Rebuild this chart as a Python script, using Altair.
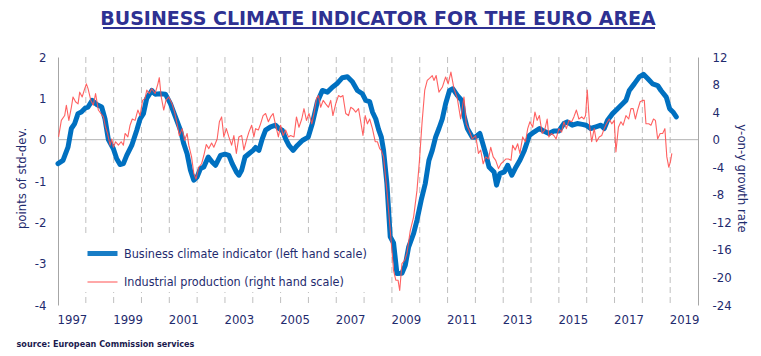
import altair as alt
import pandas as pd

# ---------------- data ----------------
BCI = "Business climate indicator (left hand scale)"
IP = "Industrial production (right hand scale)"

bci_year = [1997.00, 1997.18, 1997.36, 1997.48, 1997.60, 1997.72, 1997.84, 1997.99,
            1998.08, 1998.23, 1998.39, 1998.57, 1998.69, 1998.81, 1998.99,
            1999.11, 1999.23, 1999.35, 1999.47, 1999.65, 1999.83, 1999.95,
            2000.07, 2000.19, 2000.37, 2000.49, 2000.67, 2000.86,
            2001.04, 2001.22, 2001.40, 2001.52, 2001.64, 2001.76, 2001.88,
            2002.00, 2002.12, 2002.24, 2002.40, 2002.54, 2002.66, 2002.84,
            2003.00, 2003.14, 2003.26, 2003.41, 2003.50, 2003.60, 2003.72, 2003.86,
            2004.01, 2004.10, 2004.22, 2004.34, 2004.46, 2004.64, 2004.82, 2004.94,
            2005.06, 2005.18, 2005.30, 2005.45, 2005.60, 2005.78, 2005.99,
            2006.14, 2006.32, 2006.50, 2006.68, 2006.86,
            2007.02, 2007.22, 2007.40, 2007.58, 2007.76, 2007.94,
            2008.06, 2008.20, 2008.30, 2008.42, 2008.52, 2008.62, 2008.70, 2008.82, 2008.94,
            2009.06, 2009.18, 2009.36, 2009.48, 2009.60, 2009.78, 2009.90,
            2010.05, 2010.20, 2010.33, 2010.45, 2010.57, 2010.69, 2010.81, 2010.93,
            2011.07, 2011.19, 2011.35, 2011.51, 2011.59, 2011.71, 2011.89, 2011.99,
            2012.16, 2012.25, 2012.37, 2012.49, 2012.67, 2012.76, 2012.88,
            2013.04, 2013.16, 2013.31, 2013.46, 2013.60, 2013.76, 2013.94,
            2014.12, 2014.30, 2014.40, 2014.64, 2014.82,
            2015.00, 2015.18, 2015.30, 2015.48, 2015.66, 2015.84, 2015.98,
            2016.14, 2016.33, 2016.51, 2016.63, 2016.75, 2016.93,
            2017.11, 2017.29, 2017.41, 2017.53, 2017.71, 2017.89,
            2018.04, 2018.19, 2018.37, 2018.55, 2018.67, 2018.86, 2018.98,
            2019.10, 2019.22]
bci_value = [-0.58, -0.50, -0.18, 0.27, 0.39, 0.63, 0.67, 0.77,
             0.79, 0.95, 0.85, 0.79, 0.50, 0.00, -0.22,
             -0.46, -0.60, -0.58, -0.38, -0.14, 0.23, 0.50,
             0.63, 1.00, 1.19, 1.10, 1.11, 1.10,
             0.87, 0.55, 0.23, -0.10, -0.34, -0.74, -0.98,
             -0.90, -0.70, -0.66, -0.42, -0.54, -0.62, -0.38,
             -0.35, -0.38, -0.58, -0.78, -0.86, -0.74, -0.42, -0.34,
             -0.26, -0.19, -0.26, 0.02, 0.23, 0.31, 0.35, 0.27,
             0.23, 0.02, -0.14, -0.26, -0.14, -0.02, 0.06,
             0.39, 0.91, 1.19, 1.15, 1.27,
             1.35, 1.50, 1.52, 1.40, 1.19, 1.11,
             0.95, 0.92, 0.67, 0.50, 0.25, 0.06, -0.26, -1.06, -2.35,
             -2.50, -3.24, -3.23, -3.04, -2.60, -2.27, -1.95,
             -1.47, -1.06, -0.50, -0.26, 0.06, 0.27, 0.50, 0.87,
             1.19, 1.23, 1.07, 0.95, 0.59, 0.27, 0.06, 0.06,
             0.15, -0.06, -0.34, -0.66, -0.78, -1.10, -0.82,
             -0.78, -0.62, -0.86, -0.66, -0.50, -0.26, 0.10,
             0.19, 0.27, 0.23, 0.15, 0.21,
             0.21, 0.39, 0.43, 0.35, 0.39, 0.37, 0.35,
             0.27, 0.31, 0.35, 0.27, 0.47, 0.63,
             0.75, 0.87, 0.95, 1.19, 1.35, 1.52,
             1.58, 1.48, 1.35, 1.31, 1.19, 1.03, 0.75,
             0.67, 0.55]

ip_year = [1997.02, 1997.12, 1997.24, 1997.30, 1997.39, 1997.48, 1997.54, 1997.63, 1997.72,
           1997.78, 1997.87, 1997.96, 1998.02, 1998.08, 1998.18, 1998.27, 1998.35, 1998.45,
           1998.54, 1998.63, 1998.71, 1998.78, 1998.87, 1998.93, 1998.99, 1999.07, 1999.17,
           1999.27, 1999.35, 1999.41, 1999.51, 1999.59, 1999.67, 1999.77, 1999.87, 1999.95,
           2000.04, 2000.13, 2000.19, 2000.28, 2000.37, 2000.49, 2000.59, 2000.64, 2000.71,
           2000.80, 2000.88, 2000.98, 2001.10, 2001.19, 2001.28, 2001.36, 2001.46, 2001.55,
           2001.64, 2001.70, 2001.80, 2001.88, 2001.96, 2002.06, 2002.16, 2002.24, 2002.33,
           2002.42, 2002.52, 2002.60, 2002.72, 2002.80, 2002.88, 2002.96, 2003.05, 2003.14,
           2003.24, 2003.32, 2003.41, 2003.50, 2003.60, 2003.68, 2003.77, 2003.86, 2003.96,
           2004.04, 2004.10, 2004.20, 2004.28, 2004.37, 2004.46, 2004.56, 2004.64, 2004.73,
           2004.82, 2004.92, 2005.00, 2005.09, 2005.18, 2005.28, 2005.36, 2005.48, 2005.57,
           2005.66, 2005.76, 2005.84, 2005.93, 2006.02, 2006.12, 2006.20, 2006.29, 2006.36,
           2006.44, 2006.53, 2006.62, 2006.72, 2006.80, 2006.88, 2006.98, 2007.08, 2007.16,
           2007.24, 2007.34, 2007.44, 2007.52, 2007.60, 2007.70, 2007.80, 2007.88, 2007.96,
           2008.04, 2008.12, 2008.20, 2008.30, 2008.40, 2008.48, 2008.56, 2008.61, 2008.70,
           2008.82, 2008.90, 2008.98, 2009.06, 2009.14, 2009.22, 2009.28, 2009.36, 2009.46,
           2009.54, 2009.66, 2009.78, 2009.90, 2009.99, 2010.08, 2010.18, 2010.27, 2010.35,
           2010.45, 2010.51, 2010.59, 2010.69, 2010.81, 2010.93, 2011.02, 2011.12, 2011.23,
           2011.35, 2011.47, 2011.59, 2011.67, 2011.77, 2011.89, 2012.01, 2012.11, 2012.19,
           2012.28, 2012.37, 2012.47, 2012.55, 2012.64, 2012.73, 2012.83, 2012.92, 2013.00,
           2013.10, 2013.19, 2013.28, 2013.34, 2013.43, 2013.52, 2013.60, 2013.70, 2013.80,
           2013.88, 2013.96, 2014.06, 2014.14, 2014.22, 2014.30, 2014.40, 2014.49, 2014.58,
           2014.64, 2014.73, 2014.82, 2014.90, 2015.00, 2015.10, 2015.18, 2015.27, 2015.36,
           2015.46, 2015.54, 2015.63, 2015.72, 2015.82, 2015.90, 2015.96, 2016.02, 2016.11,
           2016.18, 2016.27, 2016.35, 2016.45, 2016.54, 2016.63, 2016.71, 2016.81, 2016.90,
           2016.99, 2017.05, 2017.14, 2017.23, 2017.31, 2017.41, 2017.51, 2017.59, 2017.67,
           2017.75, 2017.83, 2017.92, 2018.01, 2018.07, 2018.13, 2018.23, 2018.31, 2018.40,
           2018.47, 2018.55, 2018.64, 2018.73, 2018.81, 2018.88, 2018.95, 2019.01, 2019.06]
ip_value = [0.4, 2.8, 3.5, 5.0, 2.8, 4.7, 6.2, 5.5, 5.2,
            6.9, 6.2, 7.4, 8.1, 7.4, 5.7, 5.0, 6.7, 4.3,
            3.8, 3.3, 1.8, 0.9, -0.8, 0.1, -1.1, -0.3, -0.8,
            -0.3, -0.8, 0.9, 0.4, 2.1, 3.0, 2.8, 4.3, 3.5,
            5.7, 6.0, 7.2, 6.7, 7.4, 6.7, 8.1, 9.0, 6.2,
            4.3, 5.7, 6.2, 5.2, 4.0, 2.3, 0.6, 1.6, -0.1,
            0.9, -0.8, -2.5, -4.9, -5.7, -4.0, -3.5, -2.3, -0.7,
            -1.3, -0.5, -1.1, 0.1, 2.6, 3.3, 0.4, 1.6, 0.4,
            -0.8, 0.6, -2.0, 0.4, 0.6, -1.5, -0.1, 1.1, 2.1,
            0.4, 1.6, 1.4, 2.3, 3.5, 3.8, 2.6, 3.3, 3.8,
            2.1, 0.4, 2.1, 0.6, 1.4, 0.4, 0.6, 0.4, 3.3,
            1.8, 3.0, 4.5, 2.8, 3.8, 2.3, 3.8, 6.0, 6.4,
            4.7, 5.7, 5.2, 4.7, 5.7, 3.5, 5.2, 6.4, 6.2,
            6.4, 3.8, 3.5, 4.7, 4.5, 4.0, 4.5, 2.6, 0.6,
            3.5, 2.3, 3.0, 1.6, -0.3, -0.3, -1.3, -1.5, -2.5,
            -7.4, -11.2, -15.1, -19.0, -20.4, -20.4, -21.9, -18.0, -17.5,
            -16.5, -13.2, -11.2, -7.4, -3.0, 2.3, 7.2, 8.6, 8.9,
            9.3, 8.6, 9.3, 6.9, 7.6, 9.1, 8.1, 9.8, 7.4,
            6.0, 3.0, 6.2, 2.3, 1.4, 0.1, 0.6, -2.0, -1.5,
            -3.5, -2.5, -2.8, -1.1, -2.5, -3.0, -4.2, -3.5, -3.2,
            -2.8, -2.8, -3.0, -0.8, -1.5, -0.6, -2.0, 0.4, -0.3,
            1.6, 2.6, 1.8, 4.0, 2.8, 3.5, 0.9, 1.4, 3.0,
            0.4, 0.9, 0.6, 0.1, 1.6, 1.1, 2.6, 1.6, 2.8,
            2.6, 3.3, 4.3, 3.0, 3.3, 3.0, 3.5, 7.2, 1.8,
            -0.3, 1.6, -0.3, 0.4, 0.6, 1.6, 2.3, 3.0, 2.3,
            2.8, -1.8, 1.8, 2.6, 2.1, 3.5, 3.0, 4.5, 4.5,
            3.0, 4.3, 5.5, 5.7, 5.7, 2.3, 2.3, 2.1, 3.0,
            2.8, 0.1, 0.9, 0.9, 1.6, -2.5, -4.0, -3.2, -2.0]

grid_years = list(range(1998, 2020))
label_years = [1997.5 + 2 * i for i in range(12)]
left_ticks = [-4, -3, -2, -1, 0, 1, 2]
right_ticks = [-24, -20, -16, -12, -8, -4, 0, 4, 8, 12]

# ---------------- styling ----------------
NAVY = "#1F2B6E"
TITLE_NAVY = "#2E3192"
LABEL_FONT = "Liberation Sans Narrow, Arial Narrow, DejaVu Sans Condensed, Liberation Sans, sans-serif"
BLUE = "#0070C0"
RED = "#FF5050"

bci_df = pd.DataFrame({"year": bci_year, "value": bci_value, "series": BCI})
ip_df = pd.DataFrame({"year": ip_year, "value": ip_value, "series": IP})
grid_df = pd.DataFrame({"year": grid_years})

minus_expr = "datum.value < 0 ? '-' + abs(datum.value) : '' + datum.value"

x_enc = alt.X(
    "year:Q",
    scale=alt.Scale(domain=[1997, 2020], nice=False, zero=False),
    axis=alt.Axis(
        values=label_years, labelExpr="'' + floor(datum.value)",
        ticks=False, domain=False, grid=False, labelPadding=8,
        labelFont=LABEL_FONT, labelFontSize=13, labelColor=NAVY,
        title="source: European Commission services",
        titleFont=LABEL_FONT, titleFontSize=9, titleFontWeight="bold",
        titleColor="#1A1A4E", titleAnchor="start", titleAlign="left",
        titleX=-42, titleY=38, titleBaseline="middle",
    ),
)

legend = alt.Legend(
    orient="none", legendX=24, legendY=176, title=None,
    symbolType="stroke", symbolSize=900, symbolStrokeWidth=5,
    labelFont=LABEL_FONT, labelFontSize=12.5, labelColor=NAVY,
    labelLimit=0, labelOffset=4, rowPadding=2, padding=3,
    fillColor="white",
)
color_enc = alt.Color("series:N", scale=alt.Scale(domain=[BCI, IP], range=[BLUE, RED]),
                      legend=legend)
width_enc = alt.StrokeWidth("series:N", scale=alt.Scale(domain=[BCI, IP], range=[5, 1.1]),
                            legend=legend)

grid = alt.Chart(grid_df).mark_rule(color="#BFBFBF", strokeDash=[6, 4], strokeWidth=1).encode(x=x_enc)

left_y = alt.Y(
    "value:Q",
    scale=alt.Scale(domain=[-4, 2], nice=False, zero=False),
    axis=alt.Axis(
        orient="left", values=left_ticks, labelExpr=minus_expr, ticks=False,
        domain=True, domainColor="#A6A6A6", grid=False, labelPadding=12,
        labelFont=LABEL_FONT, labelFontSize=13, labelColor=NAVY,
        title="points of std-dev.", titleFont=LABEL_FONT, titleFontSize=13,
        titleFontWeight="normal", titleColor=NAVY, titleX=-37, titleY=121,
        titleBaseline="middle",
    ),
)
right_y = alt.Y(
    "value:Q",
    scale=alt.Scale(domain=[-24, 12], nice=False, zero=False),
    axis=alt.Axis(
        orient="right", values=right_ticks, labelExpr=minus_expr, ticks=False,
        domain=True, domainColor="#A6A6A6", grid=False, labelPadding=14,
        labelFont=LABEL_FONT, labelFontSize=13, labelColor=NAVY,
        title="y-on-y growth rate", titleFont=LABEL_FONT, titleFontSize=13,
        titleFontWeight="normal", titleColor=NAVY, titleX=43, titleY=121,
        titleBaseline="middle",
    ),
)

zero = alt.Chart(pd.DataFrame({"value": [0]})).mark_rule(color="#B3B3B3", strokeWidth=1).encode(
    y=left_y
)

bci_line = alt.Chart(bci_df).mark_line(strokeJoin="round", strokeCap="round").encode(
    x=x_enc, y=left_y, color=color_enc, strokeWidth=width_enc
)
ip_line = alt.Chart(ip_df).mark_line(strokeJoin="round", opacity=0.9).encode(
    x=x_enc, y=right_y, color=color_enc, strokeWidth=width_enc
)

underline = alt.Chart(pd.DataFrame({"a": [0]})).mark_rule(color=TITLE_NAVY, strokeWidth=2).encode(
    x=alt.value(45), x2=alt.value(597), y=alt.value(-29)
)

left_group = alt.layer(zero, bci_line)

chart = alt.layer(grid, underline, left_group, ip_line).resolve_scale(y="independent").properties(
    width=640,
    height=248,
    autosize=alt.AutoSizeParams(type="none"),
    padding={"left": 50, "top": 49, "right": 55, "bottom": 45},
    title=alt.TitleParams(
        text="BUSINESS CLIMATE INDICATOR FOR THE EURO AREA",
        font="DejaVu Sans", fontSize=19, fontWeight="bold", color=TITLE_NAVY,
        anchor="middle", offset=-2,
    ),
).configure_view(stroke=None)

chart.save("out.html", embed_options={"renderer": "svg", "actions": False})
